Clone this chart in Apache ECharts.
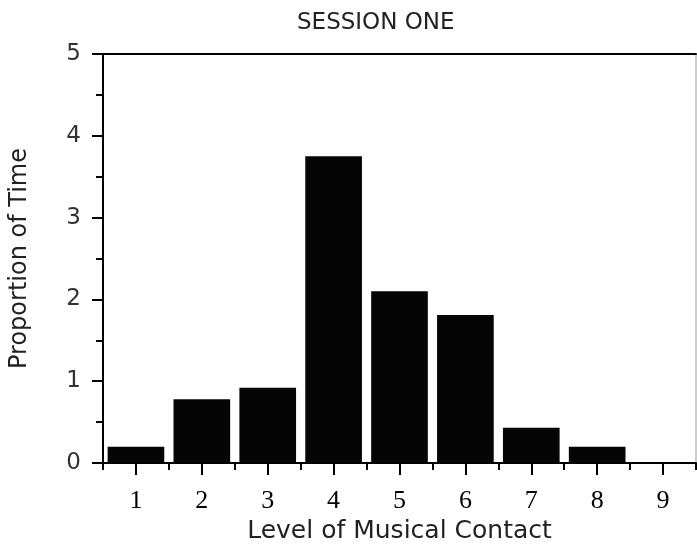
<!DOCTYPE html>
<html>
<head>
<meta charset="utf-8">
<script src="https://cdn.jsdelivr.net/npm/echarts@6/dist/echarts.min.js"></script>
<style>html,body{margin:0;padding:0;background:#fff}#c{width:697px;height:551px}</style>
</head>
<body>
<div id="c"></div>
<script>
var titleText = "SESSION ONE";
var xName = "Level of Musical Contact";
var yName = "Proportion of Time";
var categories = ["1","2","3","4","5","6","7","8","9"];
var values = [0.2, 0.78, 0.92, 3.75, 2.1, 1.81, 0.43, 0.2, 0];
var yMin = 0, yMax = 5, yStep = 1;

var chart = echarts.init(document.getElementById('c'));
var sans = "DejaVu Sans";
chart.setOption({
  animation: false,
  backgroundColor: '#fff',
  title: {
    text: titleText, left: 292, top: 7,
    textStyle: {fontFamily: sans, fontSize: 23, fontWeight: 'normal', color: '#222'}
  },
  grid: {left: 103, right: 1, top: 54, bottom: 88, show: true, borderColor: '#999', borderWidth: 1},
  xAxis: [
    {
      type: 'category', data: categories, position: 'bottom',
      name: xName, nameLocation: 'middle', nameGap: 53,
      nameTextStyle: {fontFamily: sans, fontSize: 25, color: '#222'},
      axisLine: {show: true, lineStyle: {color: '#000', width: 2}},
      axisTick: {show: true, alignWithLabel: false, length: 7, lineStyle: {color: '#000', width: 2}},
      axisLabel: {fontFamily: 'Liberation Serif', fontSize: 26, color: '#000', margin: 25},
      splitLine: {show: false}
    },
    {
      type: 'category', data: categories, position: 'bottom', gridIndex: 0,
      axisLine: {show: false},
      axisTick: {show: true, alignWithLabel: true, length: 12, lineStyle: {color: '#000', width: 2}},
      axisLabel: {show: false},
      splitLine: {show: false}
    },
    {
      type: 'category', data: categories, position: 'top', gridIndex: 0,
      axisLine: {show: true, lineStyle: {color: '#000', width: 2}},
      axisTick: {show: false}, axisLabel: {show: false}, splitLine: {show: false}
    }
  ],
  yAxis: {
    type: 'value', min: yMin, max: yMax, interval: yStep,
    name: yName, nameLocation: 'middle', nameGap: 71,
    nameTextStyle: {fontFamily: sans, fontSize: 24, color: '#222'},
    axisLine: {show: true, lineStyle: {color: '#000', width: 2}},
    axisTick: {show: true, length: 11, lineStyle: {color: '#000', width: 2}},
    minorTick: {show: true, splitNumber: 2, length: 7, lineStyle: {color: '#000', width: 2}},
    axisLabel: {fontFamily: sans, fontSize: 23, color: '#333', margin: 22},
    splitLine: {show: false}
  },
  series: [{
    type: 'bar', data: values, xAxisIndex: 0,
    barCategoryGap: '14%',
    itemStyle: {color: '#050505'}
  }]
});
</script>
</body>
</html>
